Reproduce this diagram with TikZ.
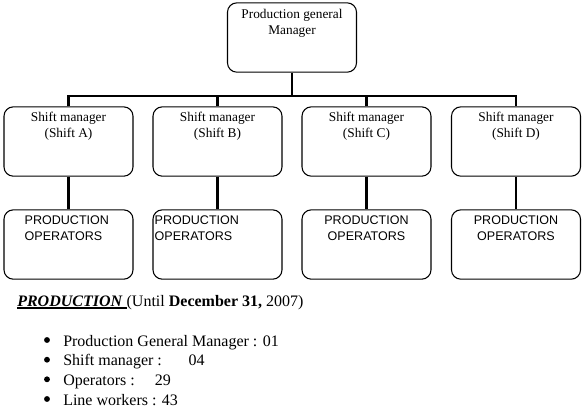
\documentclass[tikz,border=0pt]{standalone}
\usepackage{fontspec}
\setmainfont{Liberation Serif}
\newfontfamily\opfont{Liberation Sans}
\usetikzlibrary{positioning}
\newcommand{\thickul}[1]{\setbox0\hbox{#1}\rlap{\rule[-2.2pt]{\wd0}{1.1pt}}\box0}

\begin{document}
\begin{tikzpicture}[x=0.75pt, y=-0.75pt,
  mgr/.style={rectangle, rounded corners=7pt, draw=black, line width=0.8pt,
    minimum width=96.75pt, minimum height=52pt, inner sep=0pt},
  %
  title/.style={align=center, inner sep=0pt, font=\fontsize{10}{12}\selectfont},
  %
  ops/.style={align=left, inner sep=0pt, font=\opfont\fontsize{9.4}{12}\selectfont},
  %
  link/.style={line width=2.2pt},
  %
  item/.style={anchor=base west, inner sep=0pt, font=\fontsize{12}{14}\selectfont}
  ]

  \useasboundingbox (0,0) rectangle (584,412);

  \begin{scope}
    %%%%%%%%%%%%%%%%%%%%%%%%%%%%%%%
    \node [mgr] (pgm) at (292,37.5) {};
    \node [title, below=5pt of pgm.north] (pgmText) {Production general\\Manager};
    %%%%%%%%%%%%%%%%%%%%%%%%%%%%%%%
    \node [mgr] (shiftA) at (68.5,141.5) {};
    \node [mgr] (shiftB) at (217.5,141.5) {};
    \node [mgr] (shiftC) at (366.5,141.5) {};
    \node [mgr] (shiftD) at (516,141.5) {};
    \node [title, below=4.5pt of shiftA.north] (shiftAText) {Shift manager\\(Shift A)};
    \node [title, below=4.5pt of shiftB.north] (shiftBText) {Shift manager\\(Shift B)};
    \node [title, below=4.5pt of shiftC.north] (shiftCText) {Shift manager\\(Shift C)};
    \node [title, below=4.5pt of shiftD.north] (shiftDText) {Shift manager\\(Shift D)};
    %%%%%%%%%%%%%%%%%%%%%%%%%%%%%%%
    \node [mgr] (opsA) at (68.5,244.5) {};
    \node [mgr] (opsB) at (217.5,244.5) {};
    \node [mgr] (opsC) at (366.5,244.5) {};
    \node [mgr] (opsD) at (516,244.5) {};
    \node [ops, below right=5pt and 15.75pt of opsA.north west] (opsAText) {PRODUCTION\\OPERATORS};
    \node [ops, below right=5pt and 1.5pt of opsB.north west] (opsBText) {PRODUCTION\\OPERATORS};
    \node [ops, align=center, below=5pt of opsC.north] (opsCText) {PRODUCTION\\OPERATORS};
    \node [ops, align=center, below=5pt of opsD.north] (opsDText) {PRODUCTION\\OPERATORS};
  \end{scope}

  \begin{scope}
    \coordinate (bus) at (292,96);
    \draw [link] (pgm) -- (bus);
    \draw [link] (shiftA.north) |- (bus) -| (shiftD.north);
    \draw [link] (shiftB.north) -- (shiftB.north |- bus);
    \draw [link] (shiftC.north) -- (shiftC.north |- bus);
    \draw [link] (shiftA) -- (opsA);
    \draw [link] (shiftB) -- (opsB);
    \draw [link] (shiftC) -- (opsC);
    \draw [link] (shiftD) -- (opsD);
  \end{scope}

  % staff summary
  \node [item] (head) at (17,306)
    {\thickul{\textbf{\textit{PRODUCTION}}\ }(Until \textbf{December 31,} 2007)};
  \node [item] (pgmItem) at (63,346) {Production General Manager : 01};
  \node [item] (shiftItem) at (63,365.7) {Shift manager :\hspace{20pt}04};
  \node [item] (opItem) at (63,385.3) {Operators :\hspace{15pt}29};
  \node [item] (lineItem) at (63,405) {Line workers : 43};
  \foreach \i in {pgmItem, shiftItem, opItem, lineItem}
    \fill ([shift={(-16,-6)}]\i.base west) circle (2.2pt);

\end{tikzpicture}
\end{document}
